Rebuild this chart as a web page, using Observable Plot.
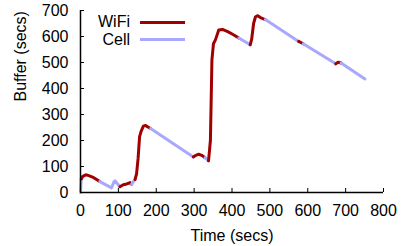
<!DOCTYPE html>
<html><head><meta charset="utf-8">
<script src="https://cdn.jsdelivr.net/npm/d3@7"></script>
<script src="https://cdn.jsdelivr.net/npm/@observablehq/plot@0.6"></script>
<style>
body{margin:0;background:#fff;font-family:"Liberation Sans",Arial,Helvetica,sans-serif;}
#wrap{position:relative;width:410px;height:246px;}
.lt{position:absolute;font-size:16px;line-height:16px;text-align:right;width:60px;color:#000;}
.ll{position:absolute;height:3px;width:45px;}
</style></head><body><div id="wrap"></div>
<script>
const time    = [0, 2, 6, 14, 22, 35, 51, 82, 88, 91, 104, 113, 122, 131, 135, 144, 148, 152, 156, 160, 166, 172, 178, 185, 298, 306, 312, 320, 329, 338, 343, 347, 351, 356, 362, 365, 375, 390, 405, 418, 448, 452, 457, 462, 468, 475, 488, 576, 588, 674, 680, 688, 751];
const buffer  = [0, 52, 62, 68, 65, 57, 42, 18, 40, 45, 22, 30, 33, 38, 32, 50, 72, 130, 215, 235, 255, 258, 252, 246, 137, 144, 147, 143, 134, 122, 200, 510, 572, 586, 612, 625, 627, 618, 606, 594, 568, 590, 650, 676, 680, 673, 665, 581, 572, 495, 501, 498, 437];
const network = ["Cell","WiFi","WiFi","WiFi","WiFi","WiFi","Cell","Cell","Cell","Cell","WiFi","WiFi","WiFi","WiFi","Cell","WiFi","WiFi","WiFi","WiFi","WiFi","WiFi","WiFi","WiFi","Cell","WiFi","WiFi","WiFi","WiFi","Cell","WiFi","WiFi","WiFi","WiFi","WiFi","WiFi","WiFi","WiFi","WiFi","WiFi","Cell","WiFi","WiFi","WiFi","WiFi","WiFi","WiFi","Cell","WiFi","Cell","WiFi","WiFi","Cell","Cell"];
const xTicks = [0, 100, 200, 300, 400, 500, 600, 700, 800];
const yTicks = [0, 100, 200, 300, 400, 500, 600, 700];
const networks = ["WiFi", "Cell"];
const networkColors = ["#a00000", "#a8a8ff"];

// build contiguous runs sharing boundary points
const rows = [];
let run = -1;
for (let i = 0; i < time.length - 1; i++) {
  if (i === 0 || network[i] !== network[i - 1]) {
    run++;
    rows.push({t: time[i], b: buffer[i], net: network[i], run});
  }
  rows.push({t: time[i + 1], b: buffer[i + 1], net: network[i], run});
}

const chart = Plot.plot({
  width: 410, height: 246,
  marginLeft: 80, marginRight: 27, marginTop: 10, marginBottom: 54,
  style: {fontFamily: '"Liberation Sans", Arial, Helvetica, sans-serif', fontSize: "16px", color: "#000", background: "#fff"},
  x: {domain: [0, 800], label: null},
  y: {domain: [0, 700], label: null},
  color: {domain: networks, range: networkColors},
  marks: [
    Plot.line(rows, {x: "t", y: "b", z: "run", stroke: "net", strokeWidth: 3, strokeLinejoin: "round"}),
    Plot.ruleX([0], {stroke: "#000", strokeWidth: 1.5}),
    Plot.ruleY([0], {stroke: "#000", strokeWidth: 1.5}),
    Plot.axisX({ticks: xTicks, tickSize: -4, tickFormat: () => "", label: null}),
    Plot.axisY({ticks: yTicks, tickSize: -4, tickFormat: () => "", label: null}),
    Plot.axisX({ticks: xTicks, tickSize: 0, tickPadding: 12, label: null, fontSize: 16}),
    Plot.axisY({ticks: yTicks, tickSize: 0, tickPadding: 12, label: null, fontSize: 16}),
    Plot.text(["Time (secs)"], {frameAnchor: "bottom", dy: 43, lineAnchor: "middle", fontSize: 16}),
    Plot.text(["Buffer (secs)"], {frameAnchor: "left", dx: -60, rotate: -90, lineAnchor: "middle", fontSize: 16})
  ]
});
const wrap = document.getElementById("wrap");
wrap.appendChild(chart);
networks.forEach((n, i) => {
  const t = document.createElement("div");
  t.className = "lt"; t.textContent = n;
  t.style.left = "70px"; t.style.top = (14 + i * 17.5) + "px";
  wrap.appendChild(t);
  const l = document.createElement("div");
  l.className = "ll"; l.style.background = networkColors[i];
  l.style.left = "140px"; l.style.top = (20.5 + i * 17.5) + "px";
  wrap.appendChild(l);
});
</script></body></html>
